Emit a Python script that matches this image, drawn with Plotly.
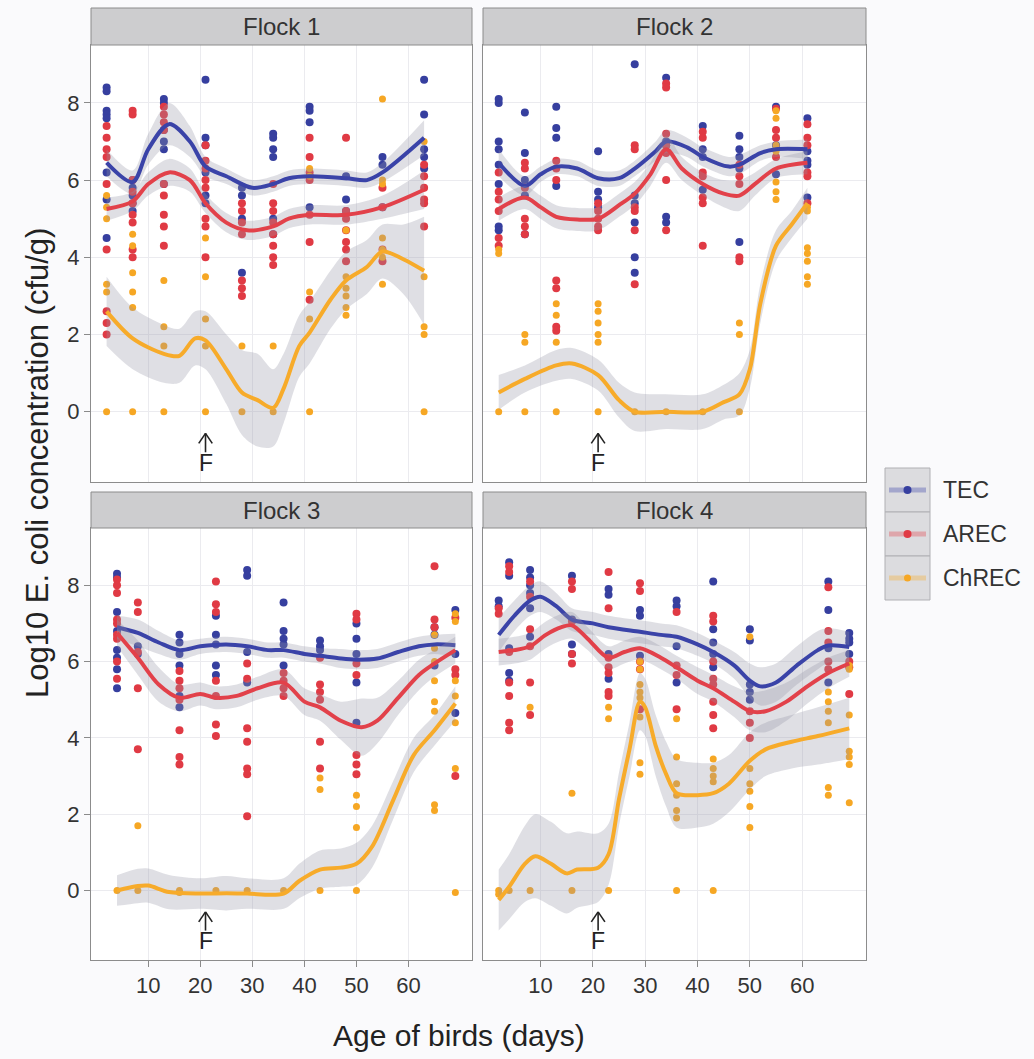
import plotly.graph_objects as go

# ---------------- data ----------------
SERIES = ["TEC", "AREC", "ChREC"]
FLOCK_NAMES = ["Flock 1", "Flock 2", "Flock 3", "Flock 4"]
X_TICKS = [10, 20, 30, 40, 50, 60]
Y_TICKS = [0, 2, 4, 6, 8]
FEED_DAY = 21

AGES_F1 = [2, 7, 13, 21, 28, 34, 41, 48, 55, 63]
AGES_F2 = [2, 7, 13, 21, 28, 34, 41, 48, 55, 61]
AGES_F3 = [4, 8, 16, 23, 29, 36, 43, 50, 65, 69]
AGES_F4 = [2, 4, 8, 16, 23, 29, 36, 43, 50, 65, 69]

F1_TEC = [[8.4, 8.3, 7.8, 7.7, 7.6, 6.2, 5.5, 4.5], [6.0, 5.8, 5.6, 5.4, 5.2], [8.1, 8.0, 7.3, 7.0, 6.8, 5.9],
          [8.6, 7.1, 6.9, 6.2, 5.6, 5.4], [5.8, 5.6, 5.0, 3.6], [7.2, 7.1, 6.8, 6.6, 5.0, 4.6],
          [7.9, 7.8, 7.5, 6.1, 5.3], [6.1, 5.5, 5.2], [6.6, 6.4, 5.3], [8.6, 7.7, 6.8, 6.6, 6.3]]
F1_AREC = [[7.4, 7.1, 6.8, 6.6, 5.9, 4.2, 2.6, 2.3, 2.0], [7.8, 7.7, 6.0, 5.7, 5.4, 5.1, 4.9, 4.2, 4.0],
           [7.9, 7.7, 7.5, 7.3, 5.9, 5.6, 5.1, 4.8, 4.3], [6.9, 6.5, 6.3, 6.0, 5.8, 5.0, 4.8, 4.0],
           [5.4, 5.2, 4.9, 4.6, 3.4, 3.2, 3.0], [5.9, 5.4, 5.2, 4.9, 4.6, 4.3, 4.0, 3.8],
           [7.1, 6.6, 6.2, 6.0, 5.1, 4.4, 2.9], [7.1, 5.2, 5.0, 4.7, 4.4, 4.2, 3.9],
           [5.8, 5.3, 4.2, 3.9], [6.4, 6.1, 5.8, 5.5, 5.4, 4.8]]
F1_CHREC = [[5.6, 5.3, 5.0, 3.3, 3.1, 0.0], [4.6, 4.3, 3.6, 3.1, 2.7, 0.0], [3.4, 2.2, 1.7, 0.0],
            [4.5, 3.5, 2.4, 1.7, 0.0], [1.7, 0.0], [1.7, 0.0], [6.3, 6.1, 3.1, 2.4, 0.0],
            [4.7, 3.5, 3.2, 3.0, 2.7, 2.5], [8.1, 6.0, 5.9, 4.5, 4.2, 4.0, 3.3], [7.0, 3.5, 2.2, 2.0, 0.0]]

F2_TEC = [[8.1, 8.0, 7.0, 6.8, 6.4, 5.9, 4.8, 4.7], [7.75, 6.7, 6.0, 5.6, 4.6], [7.9, 7.35, 7.1, 5.85],
          [6.75, 5.7, 5.5, 5.3], [9.0, 5.6, 5.4, 4.9, 4.0, 3.6], [8.65, 7.0, 6.9, 5.05, 4.9],
          [7.4, 6.8, 6.6, 5.75], [7.15, 6.8, 6.6, 6.3, 4.4], [7.9, 6.9, 6.15], [7.6, 6.75, 6.5, 6.4, 5.55]]
F2_AREC = [[6.2, 5.7, 5.5, 5.2, 4.5, 4.3], [6.45, 6.3, 5.8, 5.0, 4.8, 4.6], [6.5, 6.3, 6.0, 3.4, 3.2, 2.2, 2.1],
           [5.4, 5.2, 5.0, 4.8, 4.7], [6.9, 6.8, 5.3, 5.2, 4.7, 3.3], [8.5, 8.4, 7.2, 6.9, 6.7, 6.0, 4.7],
           [7.25, 7.1, 6.2, 6.1, 5.55, 5.4, 4.3], [6.4, 6.1, 5.9, 4.0, 3.9], [7.85, 7.3, 7.1, 6.6],
           [7.45, 7.1, 6.9, 6.2, 6.1, 5.4]]
F2_CHREC = [[4.2, 4.1, 0.0], [2.0, 1.8, 0.0], [2.8, 2.5, 1.8, 0.0], [2.8, 2.6, 2.3, 2.0, 1.8, 0.0], [0.0],
            [0.0], [0.0], [2.3, 2.0, 0.0], [7.8, 7.6, 6.9, 6.75, 5.95, 5.7, 5.5],
            [5.3, 5.2, 4.25, 4.1, 3.9, 3.5, 3.3]]

F3_TEC = [[8.3, 8.2, 7.3, 6.8, 6.3, 6.1, 5.8, 5.3], [6.4, 6.2], [6.7, 6.5, 6.2, 5.9, 5.1, 4.8],
          [7.2, 6.7, 6.45, 5.9, 5.65], [8.4, 8.25, 6.25, 5.45], [7.55, 6.8, 6.6, 6.45, 5.9],
          [6.55, 6.4, 6.3], [7.0, 6.6, 6.2, 5.45, 4.4], [6.9, 6.7, 5.9], [7.35, 6.2, 4.65]]
F3_AREC = [[8.15, 8.0, 7.8, 7.1, 7.0, 6.7, 6.6, 6.0, 5.55], [7.55, 7.3, 6.25, 5.3, 3.7],
           [5.75, 5.5, 5.3, 5.0, 4.2, 3.5, 3.3], [8.1, 7.5, 7.3, 5.5, 5.1, 4.35, 4.05],
           [5.95, 5.55, 4.25, 3.9, 3.2, 3.05, 1.95], [5.7, 5.5, 5.3, 5.1], [6.1, 5.4, 5.2, 5.0, 3.9, 3.2],
           [7.25, 7.1, 5.95, 5.65, 3.55, 3.3, 3.05], [8.5, 7.1, 6.9], [7.15, 5.8, 5.65, 3.0]]
F3_CHREC = [[0.0], [1.7, 0.0], [0.0, -0.05], [0.0], [0.0], [0.0], [2.95, 2.65, 0.0], [2.5, 2.2, 1.65, 0.0],
            [6.7, 6.35, 6.0, 5.5, 4.95, 4.7, 2.25, 2.1], [7.25, 7.05, 5.5, 5.1, 4.4, 3.2, -0.05]]

F4_TEC = [[7.6, 7.45], [8.6, 8.25, 6.35, 5.7, 5.5], [8.4, 8.2, 8.0, 7.8, 7.4, 6.65], [8.25, 7.1, 6.45, 6.2],
          [7.9, 7.75, 6.2, 5.55], [7.35, 7.2, 6.15], [7.6, 7.45, 6.4, 5.45], [8.1, 6.85, 6.5, 6.2, 5.85],
          [6.85, 6.55, 5.4, 5.2, 5.0], [8.1, 7.35, 6.35, 5.45], [6.75, 6.6, 6.5, 6.2]]
F4_AREC = [[7.4, 7.25], [8.5, 8.35, 6.25, 5.45, 5.1, 4.4, 4.2], [8.1, 7.7, 6.85, 6.4, 5.45, 4.6],
           [8.1, 7.9, 7.05, 6.2, 5.95], [8.35, 7.4, 6.1, 5.85, 5.7, 5.2, 5.1], [8.05, 7.85, 6.0, 5.8, 4.75],
           [7.3, 5.9, 5.65, 4.75], [7.2, 7.05, 6.0, 5.55, 5.4, 4.95, 4.6, 4.25], [4.7, 4.4, 4.0],
           [7.95, 6.8, 6.5, 6.0, 5.8], [6.0, 5.85, 5.15]]
F4_CHREC = [[0.0, -0.1], [0.0], [4.8, 0.0], [2.55, 0.0], [4.8, 4.5, 0.0],
            [6.0, 5.8, 5.4, 5.2, 5.05, 4.55, 3.35, 3.05], [4.5, 3.5, 2.8, 2.5, 2.1, 1.9, 0.0],
            [3.45, 3.2, 3.0, 2.85, 0.0], [6.65, 3.2, 2.8, 2.6, 2.2, 1.65],
            [5.2, 4.95, 4.7, 4.4, 2.7, 2.5], [5.9, 5.8, 4.6, 3.65, 3.5, 3.3, 2.3]]

# smoothed (loess) curves: x, fitted value, half-width of the grey band
S1_TEC_X = [2, 7, 10, 14, 18, 21, 25, 30, 34, 37, 41, 48, 52, 55, 63]
S1_TEC_Y = [6.45, 5.95, 6.8, 7.45, 7.0, 6.35, 6.1, 5.8, 5.9, 6.05, 6.1, 6.05, 6.0, 6.2, 7.1]
S1_TEC_SE = [0.35, 0.3, 0.4, 0.55, 0.4, 0.25, 0.2, 0.2, 0.2, 0.2, 0.2, 0.2, 0.2, 0.25, 0.45]
S1_AREC_X = [2, 7, 10, 14, 18, 21, 25, 29, 34, 37, 41, 48, 55, 63]
S1_AREC_Y = [5.25, 5.45, 5.9, 6.2, 6.0, 5.4, 4.9, 4.7, 4.8, 5.0, 5.1, 5.1, 5.3, 5.75]
S1_AREC_SE = [0.3, 0.25, 0.3, 0.35, 0.3, 0.25, 0.25, 0.25, 0.25, 0.25, 0.25, 0.25, 0.3, 0.5]
S1_CHREC_X = [2, 7, 13, 16, 19, 21, 25, 28, 31, 34, 36, 39, 41, 45, 48, 52, 55, 59, 63]
S1_CHREC_Y = [2.6, 1.9, 1.5, 1.45, 1.9, 1.85, 1.1, 0.5, 0.3, 0.1, 0.6, 1.7, 2.05, 2.9, 3.4, 3.75, 4.15, 3.95, 3.65]
S1_CHREC_SE = [0.9, 0.8, 0.75, 0.7, 0.7, 0.75, 0.9, 1.1, 1.2, 1.0, 0.9, 0.8, 0.8, 0.75, 0.75, 0.7, 0.7, 0.9, 1.4]

S2_TEC_X = [2, 7, 10, 13, 17, 21, 25, 28, 32, 34, 38, 41, 46, 48, 52, 55, 61]
S2_TEC_Y = [6.45, 5.85, 6.15, 6.35, 6.3, 6.05, 6.05, 6.3, 6.75, 7.0, 6.85, 6.6, 6.35, 6.4, 6.7, 6.8, 6.8]
S2_TEC_SE = [0.35, 0.25, 0.2, 0.2, 0.2, 0.2, 0.2, 0.2, 0.25, 0.3, 0.25, 0.25, 0.25, 0.25, 0.2, 0.2, 0.25]
S2_AREC_X = [2, 7, 10, 13, 17, 21, 25, 28, 31, 34, 37, 41, 45, 48, 51, 55, 61]
S2_AREC_Y = [5.25, 5.55, 5.3, 5.05, 4.98, 5.0, 5.35, 5.65, 6.15, 6.8, 6.3, 5.9, 5.65, 5.6, 5.9, 6.3, 6.45]
S2_AREC_SE = [0.3, 0.3, 0.3, 0.3, 0.3, 0.3, 0.3, 0.3, 0.3, 0.35, 0.3, 0.3, 0.35, 0.4, 0.3, 0.25, 0.3]
S2_CHREC_X = [2, 7, 13, 16, 21, 25, 28, 34, 41, 45, 48, 50, 52, 55, 58, 61]
S2_CHREC_Y = [0.5, 0.85, 1.2, 1.25, 0.95, 0.3, 0.0, 0.0, 0.0, 0.25, 0.45, 1.1, 2.8, 4.3, 4.85, 5.4]
S2_CHREC_SE = [0.45, 0.35, 0.4, 0.4, 0.4, 0.45, 0.5, 0.45, 0.45, 0.45, 0.55, 0.5, 0.5, 0.4, 0.35, 0.4]

S3_TEC_X = [4, 8, 12, 16, 20, 25, 29, 33, 36, 40, 43, 47, 50, 54, 58, 62, 65, 69]
S3_TEC_Y = [6.9, 6.75, 6.5, 6.3, 6.4, 6.45, 6.4, 6.3, 6.3, 6.2, 6.15, 6.08, 6.05, 6.08, 6.25, 6.4, 6.45, 6.43]
S3_TEC_SE = [0.3, 0.35, 0.3, 0.25, 0.2, 0.2, 0.2, 0.2, 0.2, 0.2, 0.2, 0.25, 0.25, 0.25, 0.25, 0.25, 0.25, 0.3]
S3_AREC_X = [4, 8, 12, 16, 20, 23, 27, 31, 36, 40, 43, 47, 51, 54, 58, 62, 65, 69]
S3_AREC_Y = [6.75, 6.1, 5.4, 5.05, 5.15, 5.05, 5.1, 5.3, 5.45, 4.95, 4.8, 4.45, 4.28, 4.45, 5.05, 5.65, 5.95, 6.3]
S3_AREC_SE = [0.35, 0.45, 0.45, 0.35, 0.3, 0.3, 0.3, 0.3, 0.35, 0.35, 0.35, 0.5, 0.75, 0.6, 0.45, 0.4, 0.35, 0.35]
S3_CHREC_X = [4, 8, 10, 14, 20, 25, 29, 36, 39, 43, 47, 50, 53, 57, 61, 65, 69]
S3_CHREC_Y = [0.0, 0.12, 0.13, -0.04, -0.08, -0.07, -0.08, -0.08, 0.25, 0.55, 0.6, 0.7, 1.15, 2.35, 3.55, 4.2, 4.9]
S3_CHREC_SE = [0.4, 0.45, 0.45, 0.45, 0.4, 0.45, 0.4, 0.4, 0.45, 0.5, 0.5, 0.55, 0.55, 0.5, 0.45, 0.4, 0.45]

S4_TEC_X = [2, 5, 8, 10, 13, 16, 20, 23, 29, 33, 36, 40, 43, 47, 50, 52, 55, 59, 63, 65, 69]
S4_TEC_Y = [6.7, 7.2, 7.6, 7.7, 7.45, 7.1, 7.0, 6.9, 6.78, 6.7, 6.65, 6.45, 6.25, 5.9, 5.5, 5.35, 5.45, 5.9, 6.3, 6.42, 6.38]
S4_TEC_SE = [0.45, 0.4, 0.4, 0.4, 0.35, 0.3, 0.3, 0.3, 0.3, 0.3, 0.3, 0.3, 0.3, 0.35, 0.45, 0.5, 0.5, 0.5, 0.5, 0.45, 0.4]
S4_AREC_X = [2, 5, 8, 11, 14, 16, 19, 23, 26, 29, 33, 36, 40, 43, 47, 50, 53, 57, 61, 65, 69]
S4_AREC_Y = [6.25, 6.3, 6.4, 6.7, 6.9, 6.95, 6.6, 6.1, 6.25, 6.35, 6.1, 5.85, 5.5, 5.3, 4.95, 4.7, 4.7, 4.95, 5.35, 5.7, 5.95]
S4_AREC_SE = [0.35, 0.35, 0.35, 0.35, 0.35, 0.35, 0.3, 0.3, 0.3, 0.3, 0.3, 0.3, 0.35, 0.35, 0.4, 0.5, 0.55, 0.5, 0.45, 0.4, 0.35]
S4_CHREC_X = [2, 4, 7, 9, 12, 15, 17, 21, 23, 25, 27, 29, 30, 32, 34, 36, 40, 43, 46, 50, 53, 58, 63, 69]
S4_CHREC_Y = [-0.25, 0.1, 0.7, 0.9, 0.7, 0.45, 0.55, 0.6, 0.95, 2.4, 3.7, 4.95, 4.8, 3.8, 3.05, 2.55, 2.5, 2.55,
              2.8, 3.4, 3.7, 3.9, 4.05, 4.25]
S4_CHREC_SE = [0.8, 0.85, 1.0, 1.1, 1.1, 1.05, 1.0, 0.9, 0.8, 0.7, 0.7, 0.75, 0.75, 0.8, 0.85, 0.9, 0.85, 0.8,
               0.75, 0.75, 0.7, 0.7, 0.75, 0.8]

# ---------------- styling / layout ----------------
W, H = 1034, 1059
COLORS = {"TEC": "#363f9f", "AREC": "#e03a44", "ChREC": "#f6a724"}
LINE_COLORS = {"TEC": "#3a43a8", "AREC": "#e2414a", "ChREC": "#f7ab2a"}
MSIZE = {"TEC": 8, "AREC": 8, "ChREC": 7}
RIBBON = "rgba(150,150,165,0.30)"
FONT = "Liberation Sans, Arial, sans-serif"
TXT = "#333333"

COLS_PX = [(91, 472), (483, 866)]
ROWS_PX = [(45, 482), (528, 960)]
STRIPS_PX = [(8, 45), (492, 528)]
XR = [-1.0, 72.2]
YR = [-1.82, 9.5]


def px_x(p):
    return p / W


def px_y(p):
    return 1 - p / H


panels = [
    (AGES_F1, [F1_TEC, F1_AREC, F1_CHREC],
     [(S1_TEC_X, S1_TEC_Y, S1_TEC_SE), (S1_AREC_X, S1_AREC_Y, S1_AREC_SE), (S1_CHREC_X, S1_CHREC_Y, S1_CHREC_SE)]),
    (AGES_F2, [F2_TEC, F2_AREC, F2_CHREC],
     [(S2_TEC_X, S2_TEC_Y, S2_TEC_SE), (S2_AREC_X, S2_AREC_Y, S2_AREC_SE), (S2_CHREC_X, S2_CHREC_Y, S2_CHREC_SE)]),
    (AGES_F3, [F3_TEC, F3_AREC, F3_CHREC],
     [(S3_TEC_X, S3_TEC_Y, S3_TEC_SE), (S3_AREC_X, S3_AREC_Y, S3_AREC_SE), (S3_CHREC_X, S3_CHREC_Y, S3_CHREC_SE)]),
    (AGES_F4, [F4_TEC, F4_AREC, F4_CHREC],
     [(S4_TEC_X, S4_TEC_Y, S4_TEC_SE), (S4_AREC_X, S4_AREC_Y, S4_AREC_SE), (S4_CHREC_X, S4_CHREC_Y, S4_CHREC_SE)]),
]

fig = go.Figure()
layout = {}
shapes = []
annotations = []

for i, (ages, series_vals, smooths) in enumerate(panels):
    r, c = divmod(i, 2)
    n = i + 1
    xa = "x" if n == 1 else f"x{n}"
    ya = "y" if n == 1 else f"y{n}"
    xkey = "xaxis" if n == 1 else f"xaxis{n}"
    ykey = "yaxis" if n == 1 else f"yaxis{n}"
    x0, x1 = COLS_PX[c]
    yt, yb = ROWS_PX[r]
    layout[xkey] = dict(
        domain=[px_x(x0), px_x(x1)], range=XR, anchor=ya, tickvals=X_TICKS,
        showticklabels=(r == 1), ticks="outside" if r == 1 else "", ticklen=6, tickcolor="#8a8a8a",
        showgrid=True, gridcolor="#ebebef", gridwidth=1, zeroline=False,
        showline=True, mirror=True, linecolor="#8c8c8c", linewidth=1,
        tickfont=dict(family=FONT, size=22, color=TXT),
    )
    layout[ykey] = dict(
        domain=[px_y(yb), px_y(yt)], range=YR, anchor=xa, tickvals=Y_TICKS,
        showticklabels=(c == 0), ticks="outside" if c == 0 else "", ticklen=6, tickcolor="#8a8a8a",
        showgrid=True, gridcolor="#ebebef", gridwidth=1, zeroline=False,
        showline=True, mirror=True, linecolor="#8c8c8c", linewidth=1,
        tickfont=dict(family=FONT, size=22, color=TXT),
    )
    # points
    for s, vals in zip(SERIES, series_vals):
        xs, ys = [], []
        for a, vs in zip(ages, vals):
            for v in vs:
                xs.append(a)
                ys.append(v)
        fig.add_trace(go.Scatter(x=xs, y=ys, mode="markers", xaxis=xa, yaxis=ya, showlegend=False,
                                 marker=dict(size=MSIZE[s], color=COLORS[s], line=dict(width=0)),
                                 hoverinfo="skip"))
    # smooths: ribbon then line per group
    for s, (sx, sy, se) in zip(SERIES, smooths):
        lo = [v - e for v, e in zip(sy, se)]
        hi = [v + e for v, e in zip(sy, se)]
        fig.add_trace(go.Scatter(x=sx, y=lo, mode="lines", xaxis=xa, yaxis=ya, showlegend=False,
                                 line=dict(width=0, shape="spline", smoothing=0.9, color="rgba(0,0,0,0)"),
                                 hoverinfo="skip"))
        fig.add_trace(go.Scatter(x=sx, y=hi, mode="lines", xaxis=xa, yaxis=ya, showlegend=False,
                                 fill="tonexty", fillcolor=RIBBON,
                                 line=dict(width=0, shape="spline", smoothing=0.9, color="rgba(0,0,0,0)"),
                                 hoverinfo="skip"))
        fig.add_trace(go.Scatter(x=sx, y=sy, mode="lines", xaxis=xa, yaxis=ya, showlegend=False,
                                 line=dict(width=4, shape="spline", smoothing=0.9, color=LINE_COLORS[s]),
                                 hoverinfo="skip"))
    # strip
    st, sb = STRIPS_PX[r]
    shapes.append(dict(type="rect", xref="paper", yref="paper", x0=px_x(x0), x1=px_x(x1),
                       y0=px_y(sb), y1=px_y(st), fillcolor="#cdcdcf", line=dict(color="#8c8c8c", width=1),
                       layer="above"))
    annotations.append(dict(xref="paper", yref="paper", x=px_x((x0 + x1) / 2), y=px_y((st + sb) / 2),
                            text=FLOCK_NAMES[i], showarrow=False, xanchor="center", yanchor="middle",
                            font=dict(family=FONT, size=24, color=TXT)))
    # feeding-change marker "F"
    for (xa0, ya0, xb0, yb0) in [(FEED_DAY, -0.56, FEED_DAY, -1.05),
                                 (FEED_DAY, -0.56, FEED_DAY - 1.3, -0.82),
                                 (FEED_DAY, -0.56, FEED_DAY + 1.3, -0.82)]:
        shapes.append(dict(type="line", xref=xa, yref=ya, x0=xa0, y0=ya0, x1=xb0, y1=yb0,
                           line=dict(color="#222222", width=1.6)))
    annotations.append(dict(xref=xa, yref=ya, x=FEED_DAY, y=-1.33, text="F", showarrow=False,
                            xanchor="center", yanchor="middle", font=dict(family=FONT, size=23, color="#222222")))

# axis titles
annotations.append(dict(xref="paper", yref="paper", x=px_x(37), y=px_y(463), textangle=-90,
                        text="Log10 E. coli concentration (cfu/g)", showarrow=False,
                        xanchor="center", yanchor="middle", font=dict(family=FONT, size=31, color="#222222")))
annotations.append(dict(xref="paper", yref="paper", x=px_x(459), y=px_y(1035),
                        text="Age of birds (days)", showarrow=False,
                        xanchor="center", yanchor="middle", font=dict(family=FONT, size=30, color="#222222")))

# legend (drawn manually, ggplot-style keys)
KEY_X = (885, 930)
KEY_ROWS = [(468, 512), (512, 556), (556, 600)]
LEG_LINE = {"TEC": "rgba(58,67,168,0.35)", "AREC": "rgba(226,65,74,0.35)", "ChREC": "rgba(247,171,42,0.35)"}
for s, (kt, kb) in zip(SERIES, KEY_ROWS):
    shapes.append(dict(type="rect", xref="paper", yref="paper", x0=px_x(KEY_X[0]), x1=px_x(KEY_X[1]),
                       y0=px_y(kb), y1=px_y(kt), fillcolor="#dcdcdf", line=dict(color="#b0b0b4", width=1)))
    ym = px_y((kt + kb) / 2)
    shapes.append(dict(type="line", xref="paper", yref="paper", x0=px_x(KEY_X[0] + 4), x1=px_x(KEY_X[1] - 4),
                       y0=ym, y1=ym, line=dict(color=LEG_LINE[s], width=5)))
    d = MSIZE[s]
    shapes.append(dict(type="circle", xref="paper", yref="paper", xsizemode="pixel", ysizemode="pixel",
                       xanchor=px_x((KEY_X[0] + KEY_X[1]) / 2), yanchor=ym,
                       x0=-d / 2, x1=d / 2, y0=-d / 2, y1=d / 2,
                       fillcolor=COLORS[s], line=dict(width=0)))
    annotations.append(dict(xref="paper", yref="paper", x=px_x(941), y=ym, text=s, showarrow=False,
                            xanchor="left", yanchor="middle", font=dict(family=FONT, size=23, color=TXT)))

fig.update_layout(
    width=W, height=H, margin=dict(l=0, r=0, t=0, b=0),
    paper_bgcolor="#fafafc", plot_bgcolor="#ffffff",
    showlegend=False, shapes=shapes, annotations=annotations, **layout,
)

fig.write_html("out.html", config={"displayModeBar": False},
               post_script="document.body.style.margin='0px';document.body.style.overflow='hidden';")
